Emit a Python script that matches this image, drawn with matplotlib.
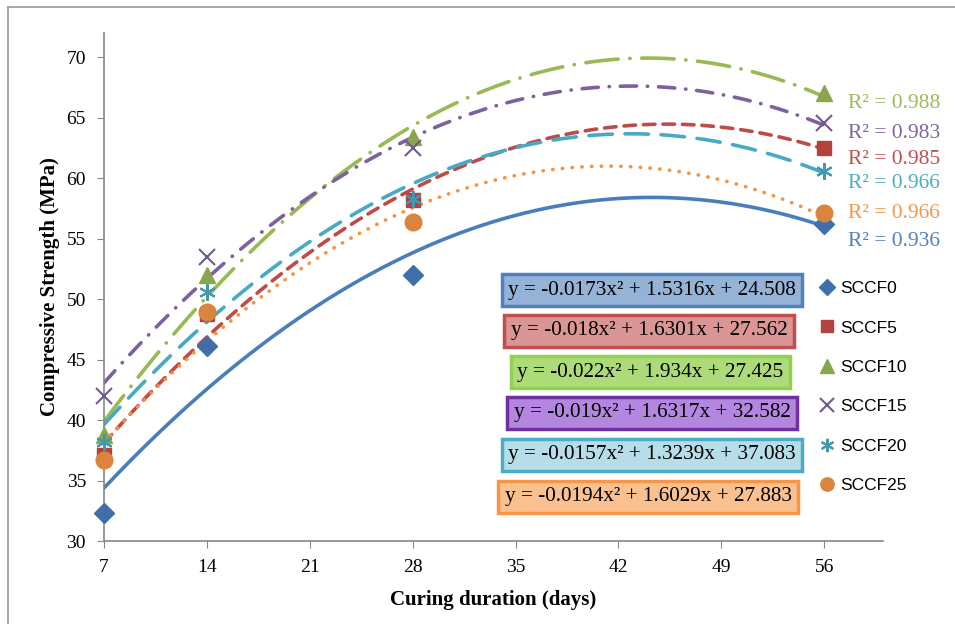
import matplotlib
matplotlib.use("Agg")
import matplotlib.pyplot as plt
import numpy as np

days = [7, 14, 28, 56]
series = ["SCCF0", "SCCF5", "SCCF10", "SCCF15", "SCCF20", "SCCF25"]
sccf0 = [32.3, 46.1, 52.0, 56.2]
sccf5 = [37.1, 48.8, 58.2, 62.5]
sccf10 = [38.8, 52.0, 63.4, 67.0]
sccf15 = [42.0, 53.5, 62.5, 64.6]
sccf20 = [38.2, 50.6, 58.3, 60.6]
sccf25 = [36.7, 48.9, 56.4, 57.1]
values = [sccf0, sccf5, sccf10, sccf15, sccf20, sccf25]

# trendline coefficients (a, b, c) as printed on the chart
coefs = [(-0.0173, 1.5316, 24.508), (-0.018, 1.6301, 27.562), (-0.022, 1.934, 27.425),
         (-0.019, 1.6317, 32.582), (-0.0157, 1.3239, 37.083), (-0.0194, 1.6029, 27.883)]
eq_labels = ["y = -0.0173x² + 1.5316x + 24.508", "y = -0.018x² + 1.6301x + 27.562",
             "y = -0.022x² + 1.934x + 27.425", "y = -0.019x² + 1.6317x + 32.582",
             "y = -0.0157x² + 1.3239x + 37.083", "y = -0.0194x² + 1.6029x + 27.883"]
r2 = ["0.936", "0.985", "0.988", "0.983", "0.966", "0.966"]

marker_colors = ["#3F6EAA", "#B3423F", "#89A54E", "#71588F", "#4198AF", "#DB843D"]
line_colors = ["#4A7EBB", "#BE4B48", "#98B954", "#7D60A0", "#46AAC5", "#F69240"]
text_colors = ["#4F81BD", "#C0504D", "#9BBB59", "#8064A2", "#4BACC6", "#F79646"]
box_fill = ["#95B3D7", "#D99694", "#AEDB7A", "#B387DF", "#B7DEE8", "#FAC090"]
box_edge = ["#4F81BD", "#C0504D", "#92D050", "#7030A0", "#4BACC6", "#F79646"]
markers = ["D", "s", "^", "x", "*", "o"]
msizes = [10, 10, 12, 12, 12, 12]
dashes = [None, (3.2, 2.2), (9, 3.2, 0.1, 3.2), (4.5, 3, 0.1, 3), (6.5, 3.5), (0.1, 2.6)]

fig = plt.figure(figsize=(9.55, 6.24), dpi=100)
ax = fig.add_axes([104/955, 83/624, 779/955, 508/624])
serif = "Liberation Serif"

xs = np.linspace(7, 56, 200)
for i, name in enumerate(series):
    a, b, c = coefs[i]
    if name == "SCCF20":
        # the drawn cyan curve follows the least-squares fit of its points
        a, b, c = np.polyfit(days, values[i], 2)
    ln, = ax.plot(xs, a*xs**2 + b*xs + c, color=line_colors[i], lw=2.6,
                  solid_capstyle="round", dash_capstyle="round", zorder=2)
    if dashes[i] is not None:
        ln.set_dashes(dashes[i])
for i, name in enumerate(series):
    mk = markers[i]
    if mk == "*":
        mk = (6, 2, 0)
    ax.plot(days, values[i], linestyle="none", marker=mk, ms=msizes[i],
            color=marker_colors[i], mec=marker_colors[i],
            mew=1.5 if markers[i] in ("x", "*") else 1, label=name, zorder=3,
            clip_on=False)

ax.set_xlim(7, 60)
ax.set_ylim(30, 72)
ax.set_xticks(range(7, 57, 7))
ax.set_yticks(range(30, 71, 5))
for s in ["top", "right"]:
    ax.spines[s].set_visible(False)
for s in ["left", "bottom"]:
    ax.spines[s].set_color("#868686")
    ax.spines[s].set_linewidth(1.2)
ax.tick_params(direction="out", length=5, color="#868686", labelsize=14, pad=8)
for lab in ax.get_xticklabels() + ax.get_yticklabels():
    lab.set_family(serif)
ax.set_xlabel("Curing duration (days)", family=serif, fontsize=15, fontweight="bold", labelpad=10)
ax.set_ylabel("Compressive Strength (MPa)", family=serif, fontsize=15, fontweight="bold", labelpad=5)

# R² labels on the right
r2_y = [241, 159, 103, 133, 183, 213]
for i in range(6):
    fig.text(848/955, 1 - r2_y[i]/624, "R² = " + r2[i], color=text_colors[i],
             family=serif, fontsize=15.5, va="center", ha="left")

# equation boxes
eq_y = [290, 331, 372, 413, 455, 497]
eq_x = [652, 649, 650, 652, 652, 648]
for i in range(6):
    fig.text(eq_x[i]/955, 1 - eq_y[i]/624, eq_labels[i], family=serif, fontsize=15.3,
             ha="center", va="center",
             bbox=dict(boxstyle="square,pad=0.3", fc=box_fill[i], ec=box_edge[i], lw=2.5))

fig.legend(loc="upper left", bbox_to_anchor=(812/955, 1 - 274/624), frameon=False,
           prop={"family": "Liberation Sans", "size": 12.5}, handlelength=0.9,
           handletextpad=0.3, labelspacing=1.4, markerscale=0.8, borderaxespad=0)

# outer chart border
fig.add_artist(plt.Line2D([8/955, 8/955], [0, 1 - 7/624], transform=fig.transFigure, color="#9A9A9A", lw=1.2))
fig.add_artist(plt.Line2D([8/955, 1], [1 - 7/624, 1 - 7/624], transform=fig.transFigure, color="#9A9A9A", lw=1.2))

fig.savefig("out.png", dpi=100)
